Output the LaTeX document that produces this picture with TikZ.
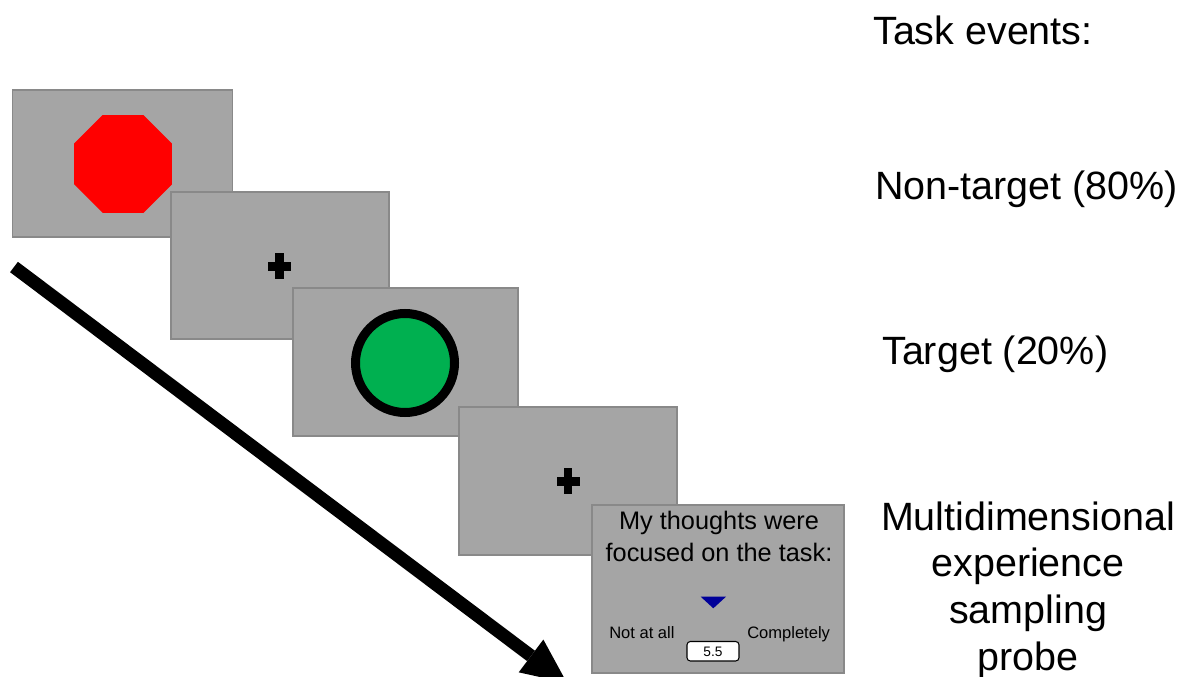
\documentclass[tikz,border=0pt]{standalone}
\usepackage{fontspec}
\setmainfont{Liberation Sans}
\usetikzlibrary{arrows.meta}
\definecolor{panelgray}{RGB}{165,165,165}
\definecolor{panelborder}{RGB}{137,137,137}
\definecolor{targetgreen}{RGB}{0,176,80}
\definecolor{probeblue}{RGB}{0,0,153}
\tikzset{
  panel/.style={fill=panelgray, draw=panelborder, line width=1.1pt},
  bigtext/.style={inner sep=0pt, font=\fontsize{29.6pt}{35pt}\selectfont},
  probetext/.style={inner sep=0pt, font=\fontsize{19pt}{24.3pt}\selectfont},
  scaletext/.style={inner sep=0pt, font=\fontsize{12.4pt}{14pt}\selectfont},
  valuetext/.style={inner sep=0pt, font=\fontsize{10.3pt}{12pt}\selectfont},
  timeline/.style={line width=9.75pt, line cap=butt, -{Triangle[length=33.75pt, width=30.75pt, line width=0pt]}},
}
\begin{document}
\begin{tikzpicture}[x=0.75pt, y=-0.75pt]
\useasboundingbox (0,0) rectangle (1184,677);
\clip (0,0) rectangle (1184,677);
% panel 1: non-target
\draw[panel] (12.5,90) rectangle (232.5,237);
\fill[red] (171.97,143.72) -- (143.28,115.03) -- (102.72,115.03) -- (74.03,143.72)
  -- (74.03,184.28) -- (102.72,212.97) -- (143.28,212.97) -- (171.97,184.28) -- cycle;
% panel 2: fixation
\draw[panel] (171,192) rectangle (389,339);
\fill[black] (268,261.5) rectangle (291,270.5);
\fill[black] (275,253) rectangle (284,279);
% panel 3: target
\draw[panel] (293,288) rectangle (518,436);
\draw[fill=targetgreen, draw=black, line width=6.75pt] (405,363) circle[radius=49.5];
% panel 4: fixation
\draw[panel] (459,407) rectangle (677,555);
\fill[black] (556.5,476.5) rectangle (579.5,485.5);
\fill[black] (563.75,468) rectangle (572.25,494);
% panel 5: probe
\draw[panel] (592,505) rectangle (844,673);
\node[probetext, anchor=base, align=center] (q1) at (719,529.5) {My thoughts were};
\node[probetext, anchor=base, align=center] (q2) at (719,561.7) {focused on the task:};
\fill[probeblue] (700.7,596.7) -- (726,596.7) -- (713.3,608.3) -- cycle;
\node[scaletext, anchor=base west] (lo) at (609,638.3) {Not at all};
\node[scaletext, anchor=base west] (hi) at (747,638.3) {Completely};
\draw[fill=white, draw=black, line width=0.8pt, rounded corners=2.5pt] (687,641.5) rectangle (739,661);
\node[valuetext, anchor=base] (val) at (713,656) {5.5};
% time arrow
\coordinate (tstart) at (14,267);
\coordinate (tend) at (567,683);
\draw[timeline] (tstart) -- (tend);
% labels
\node[bigtext, anchor=base west] (head) at (873,45) {Task events:};
\node[bigtext, anchor=base west] (nt) at (875,200) {Non-target (80\%)};
\node[bigtext, anchor=base west] (tg) at (882,364) {Target (20\%)};
\node[bigtext, anchor=base] (m1) at (1028,530) {Multidimensional};
\node[bigtext, anchor=base] (m2) at (1028,576.7) {experience};
\node[bigtext, anchor=base] (m3) at (1028,623.4) {sampling};
\node[bigtext, anchor=base] (m4) at (1028,670) {probe};
\end{tikzpicture}
\end{document}
